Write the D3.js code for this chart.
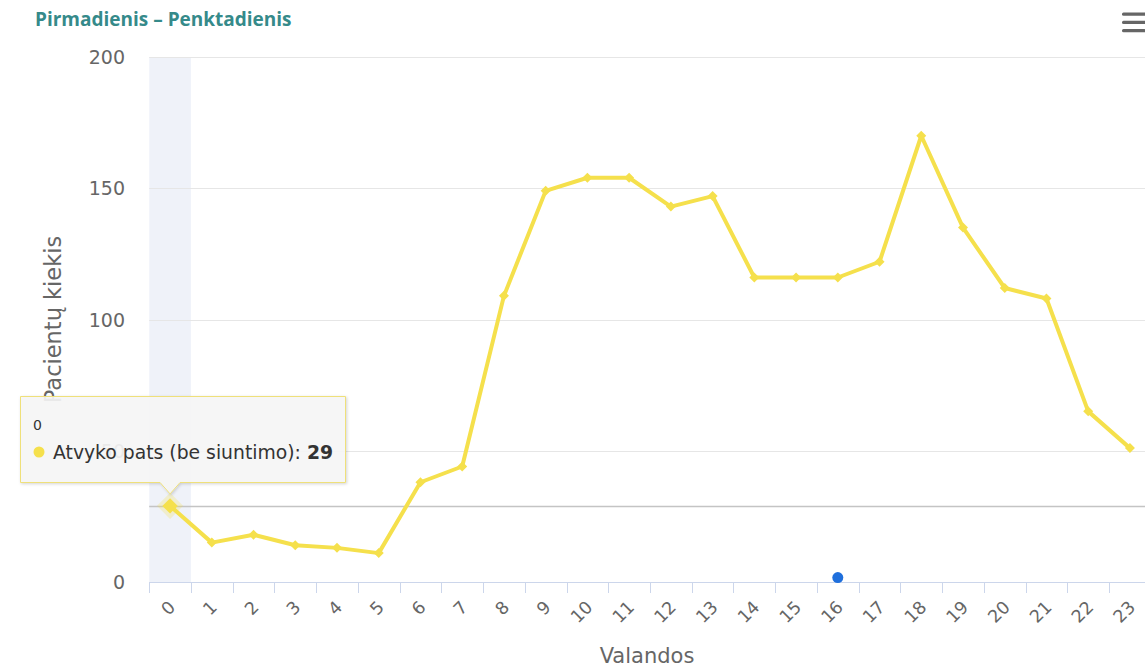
<!DOCTYPE html>
<html>
<head>
<meta charset="utf-8">
<script src="https://cdn.jsdelivr.net/npm/d3@7"></script>
<style>
  html, body { margin: 0; padding: 0; background: #fff; }
  svg { display: block; font-family: "DejaVu Sans", sans-serif; }
</style>
</head>
<body>
<svg id="chart" width="1145" height="665"></svg>
<script>
// ---- data ----
const chartTitle = "Pirmadienis – Penktadienis";
const seriesName = "Atvyko pats (be siuntimo)";
const categories = ["0","1","2","3","4","5","6","7","8","9","10","11","12","13","14","15","16","17","18","19","20","21","22","23"];
const values = [29, 15, 18, 14, 13, 11, 38, 44, 109, 149, 154, 154, 143, 147, 116, 116, 116, 122, 170, 135, 112, 108, 65, 51];
const yTicks = [0, 50, 100, 150, 200];
const hoverIndex = 0;
const extraPointCategory = ["16"];
const extraPointValue = [1.5];
const yTitle = "Pacientų kiekis";
const xTitle = "Valandos";

// ---- layout ----
const svg = d3.select("#chart");
const W = 1145, H = 665;
const plotLeft = 149.2, plotRight = 1150.8, plotTop = 57, plotBottom = 582;
const lineColor = "#f5e04c";

svg.append("rect").attr("width", W).attr("height", H).attr("fill", "#fff");

const x = d3.scaleBand().domain(categories).range([plotLeft, plotRight]).padding(0);
const y = d3.scaleLinear().domain([0, 200]).range([plotBottom, plotTop]);
const cx = c => x(c) + x.bandwidth() / 2;

// hover band (x crosshair)
svg.append("rect")
  .attr("x", x(categories[hoverIndex]))
  .attr("y", plotTop)
  .attr("width", x.bandwidth())
  .attr("height", plotBottom - plotTop)
  .attr("fill", "rgba(204,214,235,0.32)");

// grid lines
svg.append("g").selectAll("line").data(yTicks.filter(t => t !== 0)).join("line")
  .attr("x1", plotLeft).attr("x2", W)
  .attr("y1", d => Math.round(y(d)) + 0.5).attr("y2", d => Math.round(y(d)) + 0.5)
  .attr("stroke", "#e6e6e6").attr("stroke-width", 1);

// y axis labels
const yAxis = d3.axisLeft(y).tickValues(yTicks).tickSize(0).tickPadding(0);
const yg = svg.append("g").attr("transform", `translate(125,0)`).call(yAxis);
yg.select(".domain").remove();
yg.selectAll("text").attr("font-size", 19).attr("fill", "#666").attr("dy", "0.35em")
  .attr("font-family", "'DejaVu Sans', sans-serif");

// horizontal crosshair at hovered point
svg.append("line")
  .attr("x1", plotLeft).attr("x2", W)
  .attr("y1", Math.round(y(values[hoverIndex])) + 0.5)
  .attr("y2", Math.round(y(values[hoverIndex])) + 0.5)
  .attr("stroke", "#c4c4c4").attr("stroke-width", 1.3);

// x axis
const xAxis = d3.axisBottom(x).tickSize(0).tickPadding(0);
const xg = svg.append("g").attr("transform", `translate(0,${plotBottom})`).call(xAxis);
xg.select(".domain").attr("stroke", "#ccd6eb").attr("d", `M${plotLeft},0.5H${W}`);
xg.selectAll("text").remove();
// ticks on band boundaries
svg.append("g").selectAll("line").data(categories).join("line")
  .attr("x1", d => Math.round(x(d)) + 0.5).attr("x2", d => Math.round(x(d)) + 0.5)
  .attr("y1", plotBottom).attr("y2", plotBottom + 11)
  .attr("stroke", "#ccd6eb");
// rotated labels
svg.append("g").selectAll("text").data(categories).join("text")
  .attr("transform", d => `translate(${cx(d) + 2},${plotBottom + 22}) rotate(-45)`)
  .attr("text-anchor", "end")
  .attr("dy", "0.35em")
  .attr("font-size", 17.5)
  .attr("fill", "#666")
  .text(d => d);

// axis titles
svg.append("text")
  .attr("transform", `translate(61,${(plotTop + plotBottom) / 2}) rotate(-90)`)
  .attr("text-anchor", "middle")
  .attr("font-size", 22.5)
  .attr("fill", "#666")
  .text(yTitle);
svg.append("text")
  .attr("x", (plotLeft + plotRight) / 2 - 3)
  .attr("y", 663)
  .attr("text-anchor", "middle")
  .attr("font-size", 21)
  .attr("fill", "#666")
  .text(xTitle);

// line
const line = d3.line().x((d, i) => cx(categories[i])).y(d => y(d));
svg.append("path").datum(values)
  .attr("d", line)
  .attr("fill", "none")
  .attr("stroke", lineColor)
  .attr("stroke-width", 4)
  .attr("stroke-linejoin", "round");

// diamond markers
svg.append("g").selectAll("path").data(values).join("path")
  .attr("transform", (d, i) => `translate(${cx(categories[i])},${y(d)}) rotate(45)`)
  .attr("d", d3.symbol().type(d3.symbolSquare).size(50)())
  .attr("fill", lineColor);

// hovered point halo + marker
const hx = cx(categories[hoverIndex]), hy = y(values[hoverIndex]);
svg.append("path")
  .attr("transform", `translate(${hx},${hy}) rotate(45)`)
  .attr("d", d3.symbol().type(d3.symbolSquare).size(340)())
  .attr("fill", lineColor).attr("opacity", 0.25);
svg.append("path")
  .attr("transform", `translate(${hx},${hy}) rotate(45)`)
  .attr("d", d3.symbol().type(d3.symbolSquare).size(120)())
  .attr("fill", lineColor);

// extra blue point
svg.append("g").selectAll("circle").data(extraPointValue).join("circle")
  .attr("cx", (d, i) => cx(extraPointCategory[i]))
  .attr("cy", d => y(d) - 0.5)
  .attr("r", 5.5)
  .attr("fill", "#1f6fdc");

// title
svg.append("text")
  .attr("x", 35).attr("y", 26)
  .attr("font-size", 19)
  .attr("font-weight", "bold")
  .attr("font-family", "'Open Sans', sans-serif")
  .attr("fill", "#358a8a")
  .text(chartTitle);

// hamburger menu
svg.append("g").selectAll("rect").data([0, 1, 2]).join("rect")
  .attr("x", 1122).attr("y", d => 12.5 + d * 8.3)
  .attr("width", 24).attr("height", 3.2).attr("rx", 1.5)
  .attr("fill", "#666");

// tooltip
const defs = svg.append("defs");
const f = defs.append("filter").attr("id", "sh").attr("x", "-10%").attr("y", "-20%").attr("width", "130%").attr("height", "150%");
f.append("feDropShadow").attr("dx", 1).attr("dy", 1).attr("stdDeviation", 1.5).attr("flood-color", "#000").attr("flood-opacity", 0.18);

const tx = 20.5, ty = 396.5, tw = 325, th = 86;
const px = hx, pyTip = hy - 12;
const tipPath = `M${tx},${ty}H${tx + tw}V${ty + th}H${px + 10}L${px},${pyTip}L${px - 10},${ty + th}H${tx}Z`;
svg.append("path").attr("d", tipPath)
  .attr("fill", "rgba(247,247,247,0.9)")
  .attr("stroke", "#efe07a").attr("stroke-width", 1)
  .attr("filter", "url(#sh)");
svg.append("text").attr("x", 33).attr("y", 430).attr("font-size", 14).attr("fill", "#333").text(categories[hoverIndex]);
svg.append("circle").attr("cx", 39).attr("cy", 452).attr("r", 5.5).attr("fill", lineColor);
const t = svg.append("text").attr("x", 53).attr("y", 459).attr("font-size", 18.8).attr("fill", "#333");
t.append("tspan").text(seriesName + ": ");
t.append("tspan").attr("font-weight", "bold").text(values[hoverIndex]);
</script>
</body>
</html>
